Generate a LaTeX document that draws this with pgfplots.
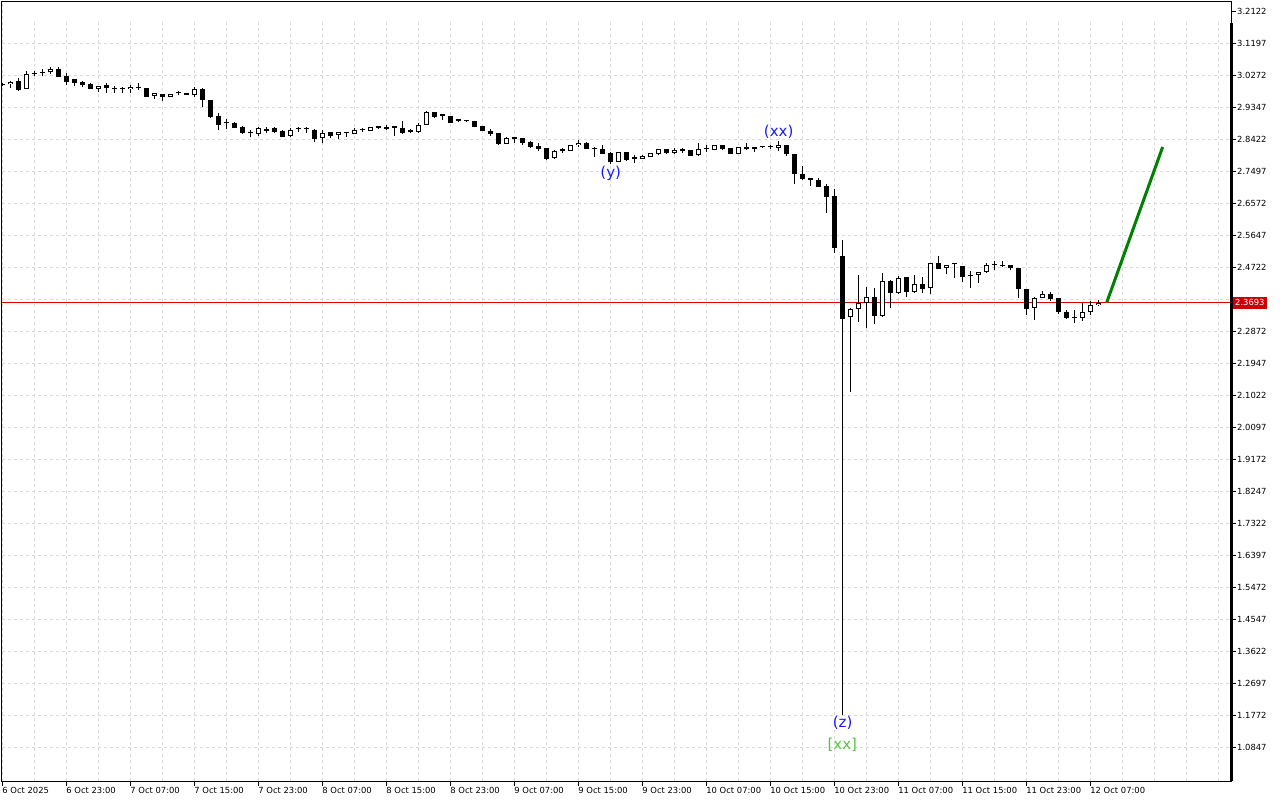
\documentclass[border=0pt]{standalone}
\usepackage{pgfplots}
\pgfplotsset{compat=1.18}
\usepackage{pgfplotstable}
\usepackage{fontspec}
\setmainfont{DejaVu Sans}
\definecolor{gridc}{RGB}{218,218,218}
\definecolor{curred}{RGB}{225,0,0}
\definecolor{boxred}{RGB}{205,0,0}
\definecolor{fcgreen}{RGB}{0,128,0}
\definecolor{lblue}{RGB}{25,25,255}
\definecolor{lgreen}{RGB}{80,200,60}

\pgfplotstableread{
i O H L C
0 2.9974 3.0041 2.9954 3.0026
1 3.0003 3.0084 2.9905 3.0078
2 3.0090 3.0177 2.9818 2.9838
3 2.9859 3.0388 2.9853 3.0292
4 3.0336 3.0396 3.0243 3.0307
5 3.0324 3.0437 3.0243 3.0353
6 3.0350 3.0495 3.0301 3.0446
7 3.0446 3.0512 3.0214 3.0223
8 3.0243 3.0321 2.9983 3.0078
9 3.0148 3.0156 2.9963 3.0050
10 3.0061 3.0107 2.9917 2.9974
11 3.0012 3.0032 2.9859 2.9876
12 2.9867 2.9963 2.9789 2.9945
13 2.9983 3.0032 2.9760 2.9888
14 2.9867 2.9954 2.9760 2.9867
15 2.9859 2.9917 2.9743 2.9859
16 2.9859 2.9983 2.9760 2.9934
17 2.9925 3.0032 2.9838 2.9896
18 2.9888 2.9896 2.9636 2.9645
19 2.9665 2.9760 2.9587 2.9743
20 2.9723 2.9737 2.9529 2.9627
21 2.9636 2.9723 2.9622 2.9723
22 2.9743 2.9801 2.9685 2.9743
23 2.9760 2.9766 2.9685 2.9694
24 2.9685 2.9917 2.9645 2.9876
25 2.9876 2.9888 2.9356 2.9549
26 2.9549 2.9549 2.9020 2.9067
27 2.9087 2.9182 2.8668 2.8841
28 2.8876 2.8992 2.8703 2.8876
29 2.8893 2.8922 2.8731 2.8749
30 2.8778 2.8798 2.8567 2.8587
31 2.8587 2.8682 2.8471 2.8587
32 2.8558 2.8778 2.8509 2.8731
33 2.8711 2.8778 2.8604 2.8662
34 2.8731 2.8778 2.8587 2.8633
35 2.8653 2.8668 2.8471 2.8489
36 2.8509 2.8749 2.8489 2.8682
37 2.8703 2.8760 2.8633 2.8703
38 2.8703 2.8778 2.8604 2.8703
39 2.8682 2.8697 2.8344 2.8413
40 2.8442 2.8682 2.8298 2.8604
41 2.8616 2.8624 2.8442 2.8517
42 2.8538 2.8624 2.8413 2.8616
43 2.8587 2.8633 2.8489 2.8587
44 2.8567 2.8731 2.8558 2.8682
45 2.8682 2.8731 2.8633 2.8682
46 2.8662 2.8769 2.8653 2.8760
47 2.8749 2.8798 2.8711 2.8749
48 2.8760 2.8827 2.8682 2.8711
49 2.8749 2.8778 2.8509 2.8749
50 2.8731 2.8951 2.8567 2.8604
51 2.8633 2.8703 2.8587 2.8633
52 2.8633 2.8876 2.8604 2.8827
53 2.8827 2.9240 2.8818 2.9211
54 2.9203 2.9211 2.9020 2.9049
55 2.9096 2.9125 2.8971 2.9096
56 2.9087 2.9096 2.8885 2.8893
57 2.8951 2.9000 2.8905 2.8951
58 2.8971 2.8980 2.8922 2.8934
59 2.8934 2.8942 2.8760 2.8778
60 2.8798 2.8806 2.8645 2.8662
61 2.8662 2.8703 2.8509 2.8567
62 2.8587 2.8596 2.8240 2.8278
63 2.8278 2.8471 2.8269 2.8460
64 2.8431 2.8489 2.8315 2.8431
65 2.8451 2.8460 2.8240 2.8315
66 2.8344 2.8356 2.8171 2.8182
67 2.8228 2.8298 2.8084 2.8133
68 2.8153 2.8162 2.7815 2.7853
69 2.7864 2.8095 2.7853 2.8084
70 2.8084 2.8153 2.8009 2.8084
71 2.8084 2.8257 2.8075 2.8249
72 2.8240 2.8393 2.8182 2.8315
73 2.8315 2.8327 2.8133 2.8142
74 2.8133 2.8182 2.7893 2.8133
75 2.8133 2.8257 2.7980 2.7989
76 2.8026 2.8038 2.7699 2.7766
77 2.7766 2.8046 2.7757 2.8038
78 2.8046 2.8055 2.7795 2.7815
79 2.7853 2.7960 2.7720 2.7853
80 2.7853 2.7951 2.7844 2.7939
81 2.7910 2.8017 2.7902 2.8009
82 2.7980 2.8142 2.7968 2.8133
83 2.8133 2.8142 2.7997 2.8009
84 2.8009 2.8153 2.7997 2.8104
85 2.8084 2.8153 2.8009 2.8084
86 2.8104 2.8113 2.7931 2.7939
87 2.7951 2.8298 2.7939 2.8124
88 2.8124 2.8249 2.8038 2.8124
89 2.8104 2.8257 2.8095 2.8249
90 2.8249 2.8257 2.8113 2.8124
91 2.8153 2.8162 2.7980 2.7989
92 2.7989 2.8191 2.7980 2.8182
93 2.8182 2.8298 2.8113 2.8124
94 2.8124 2.8191 2.8055 2.8182
95 2.8182 2.8211 2.8153 2.8182
96 2.8182 2.8249 2.8124 2.8182
97 2.8171 2.8364 2.8084 2.8249
98 2.8249 2.8257 2.7931 2.7980
99 2.7989 2.7997 2.7113 2.7402
100 2.7419 2.7633 2.7251 2.7269
101 2.7286 2.7303 2.7072 2.7237
102 2.7237 2.7303 2.7026 2.7043
103 2.7063 2.7121 2.6292 2.6754
104 2.6774 2.6968 2.5136 2.5280
105 2.5040 2.5503 1.1772 2.3219
106 2.3268 2.3537 2.1109 2.3499
107 2.3499 2.4491 2.3141 2.3673
108 2.3673 2.4135 2.2950 2.3846
109 2.3855 2.4115 2.3074 2.3306
110 2.3314 2.4540 2.3268 2.4326
111 2.4326 2.4346 2.3528 2.3962
112 2.3962 2.4462 2.3950 2.4395
113 2.4424 2.4433 2.3864 2.4008
114 2.4008 2.4491 2.3962 2.4222
115 2.4222 2.4424 2.3962 2.4086
116 2.4106 2.4838 2.3942 2.4829
117 2.4829 2.5040 2.4656 2.4673
118 2.4684 2.4789 2.4511 2.4780
119 2.4800 2.4809 2.4395 2.4800
120 2.4751 2.4760 2.4297 2.4442
121 2.4491 2.4615 2.4124 2.4462
122 2.4491 2.4578 2.4268 2.4569
123 2.4569 2.4846 2.4557 2.4780
124 2.4780 2.4896 2.4635 2.4780
125 2.4780 2.4896 2.4731 2.4751
126 2.4780 2.4789 2.4635 2.4684
127 2.4684 2.4693 2.3812 2.4077
128 2.4077 2.4086 2.3335 2.3499
129 2.3528 2.3855 2.3190 2.3840
130 2.3835 2.4037 2.3826 2.3933
131 2.3942 2.4008 2.3748 2.3797
132 2.3817 2.3826 2.3355 2.3413
133 2.3413 2.3479 2.3219 2.3239
134 2.3254 2.3479 2.3095 2.3254
135 2.3239 2.3690 2.3170 2.3413
136 2.3413 2.3748 2.3335 2.3624
137 2.3624 2.3768 2.3595 2.3693
}\candles

\begin{document}
\begin{tikzpicture}
\path[use as bounding box] (0,0) rectangle (1280bp,-800bp);
\begin{axis}[
  at={(2bp,-2bp)}, anchor=north west,
  scale only axis, width=1229bp, height=779bp,
  xmin=-0.0875, xmax=153.54, ymin=0.9864, ymax=3.2382,
  axis line style={line width=1bp, black},
  xtick={0,8,...,136},
  xticklabels={6 Oct 2025,6 Oct 23:00,7 Oct 07:00,7 Oct 15:00,7 Oct 23:00,8 Oct 07:00,8 Oct 15:00,8 Oct 23:00,9 Oct 07:00,9 Oct 15:00,9 Oct 23:00,10 Oct 07:00,10 Oct 15:00,10 Oct 23:00,11 Oct 07:00,11 Oct 15:00,11 Oct 23:00,12 Oct 07:00},
  minor xtick={4,12,...,132,140,144,148,152},
  ytick={1.0847,1.1772,1.2697,1.3622,1.4547,1.5472,1.6397,1.7322,1.8247,1.9172,2.0097,2.1022,2.1947,2.2872,2.3797,2.4722,2.5647,2.6572,2.7497,2.8422,2.9347,3.0272,3.1197,3.2122},
  yticklabels={1.0847,1.1772,1.2697,1.3622,1.4547,1.5472,1.6397,1.7322,1.8247,1.9172,2.0097,2.1022,2.1947,2.2872,{},2.4722,2.5647,2.6572,2.7497,2.8422,2.9347,3.0272,3.1197,3.2122},
  xtick pos=bottom, ytick pos=right, yticklabel pos=right,
  tick align=outside,
  major tick length=5bp, minor tick length=0pt,
  tick style={black, line width=0.8bp},
  grid=both,
  major grid style={gridc, dash pattern=on 3bp off 3bp, line width=0.8bp},
  minor grid style={gridc, dash pattern=on 3bp off 3bp, line width=0.8bp},
  tick label style={font=\fontsize{8.4bp}{10bp}\selectfont, text=black},
  xticklabel style={anchor=north west, inner sep=0pt, xshift=-0.5bp, yshift=-1bp},
  yticklabel style={anchor=west, inner sep=0pt, xshift=1bp},
  clip mode=individual,
  candle/.style={draw=none, mark=none, forget plot,
    error bars/y dir=plus, error bars/y explicit, error bars/error mark=none},
]
\fill[white] (axis cs:0.05,3.2353) rectangle (axis cs:153.4,3.1804);

\addplot[curred, line width=1bp, forget plot] coordinates {(-1,2.3693) (160,2.3693)};

% wicks
\addplot[candle, error bars/error bar style={draw=black, line width=1bp}]
  table[x=i, y=L, y error expr={\thisrow{H}-\thisrow{L}}] {\candles};

% black (bearish) bodies
\addplot[candle, error bars/error bar style={draw=black, line width=5.3bp}]
  table[x=i, y expr={min(\thisrow{O},\thisrow{C})},
        y error expr={(\thisrow{O}>=\thisrow{C}) ? max(\thisrow{O}-\thisrow{C},0.0035) : 0}] {\candles};

% white (bullish) bodies: outline
\addplot[candle, error bars/error bar style={draw=black, line width=5.3bp}]
  table[x=i, y=O,
        y error expr={(\thisrow{C}>\thisrow{O}) ? max(\thisrow{C}-\thisrow{O},0.0035) : 0}] {\candles};

% white (bullish) bodies: fill
\addplot[candle, error bars/error bar style={draw=white, line width=3.1bp}]
  table[x=i, y expr={\thisrow{O}+0.0032},
        y error expr={(\thisrow{C}-\thisrow{O}>0.0064) ? \thisrow{C}-\thisrow{O}-0.0064 : 0}] {\candles};

% projection
\addplot[fcgreen, line width=3bp, forget plot] coordinates {(138,2.3693) (145,2.8191)};

\node[text=lblue, font=\fontsize{15bp}{15bp}\selectfont, inner sep=0pt] at (axis cs:97,2.8624) {(xx)};
\node[text=lblue, font=\fontsize{15bp}{15bp}\selectfont, inner sep=0pt] at (axis cs:76,2.7439) {(y)};
\node[text=lblue, font=\fontsize{15bp}{15bp}\selectfont, inner sep=0pt] at (axis cs:105,1.1540) {(z)};
\node[text=lgreen, font=\fontsize{15bp}{15bp}\selectfont, inner sep=0pt] at (axis cs:104.95,1.0923) {[xx]};

\draw[line width=3bp, black] (axis cs:153.54,3.1775) -- (axis cs:153.54,0.9864);
\coordinate (cur) at (axis cs:153.54,2.3693);
\end{axis}
\node[fill=boxred, text=white, anchor=west, inner xsep=2.5bp, inner ysep=0pt, minimum height=12bp,
      font=\fontsize{8.4bp}{10bp}\selectfont, xshift=1.5bp] at (cur) {2.3693};
\end{tikzpicture}
\end{document}
